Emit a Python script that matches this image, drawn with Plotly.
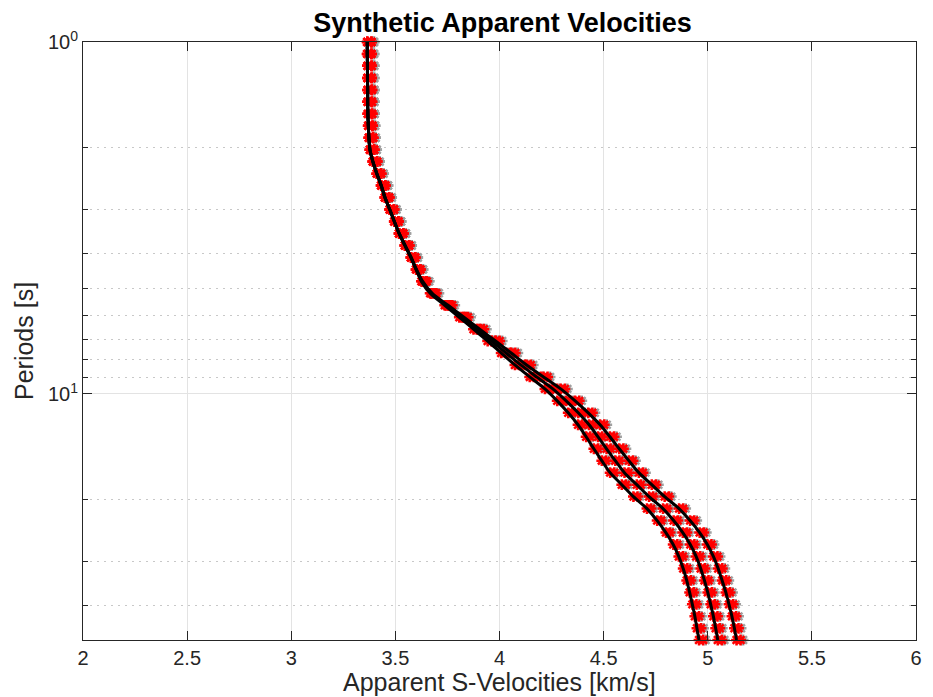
import math
import plotly.graph_objects as go

# ---------------- data ----------------
periods = [1.000, 1.081, 1.169, 1.265, 1.368, 1.479, 1.600, 1.730, 1.871, 2.023,
           2.187, 2.366, 2.558, 2.767, 2.992, 3.236, 3.499, 3.784, 4.093, 4.426,
           4.787, 5.176, 5.598, 6.054, 6.547, 7.071, 7.647, 8.270, 8.944, 9.672,
           10.46, 11.31, 12.23, 13.23, 14.31, 15.47, 16.73, 18.10, 19.57, 21.17,
           22.89, 24.76, 26.77, 28.95, 31.31, 33.86, 36.62, 39.60, 42.83, 46.32,
           50.00]

vel_mid = [3.365, 3.365, 3.366, 3.366, 3.367, 3.367, 3.368, 3.370, 3.373, 3.378,
           3.392, 3.411, 3.432, 3.450, 3.473, 3.495, 3.518, 3.546, 3.575, 3.600,
           3.628, 3.672, 3.745, 3.818, 3.890, 3.962, 4.032, 4.102, 4.178, 4.256,
           4.320, 4.378, 4.430, 4.473, 4.514, 4.556, 4.600, 4.659, 4.718, 4.785,
           4.836, 4.880, 4.916, 4.944, 4.966, 4.984, 5.000, 5.014, 5.027, 5.038,
           5.048]

vel_low = [3.365, 3.365, 3.366, 3.366, 3.367, 3.367, 3.368, 3.370, 3.373, 3.378,
           3.392, 3.411, 3.432, 3.450, 3.473, 3.495, 3.518, 3.546, 3.575, 3.599,
           3.625, 3.667, 3.737, 3.807, 3.875, 3.943, 4.008, 4.074, 4.145, 4.218,
           4.277, 4.330, 4.377, 4.416, 4.453, 4.491, 4.531, 4.587, 4.643, 4.708,
           4.757, 4.799, 4.834, 4.861, 4.882, 4.899, 4.913, 4.926, 4.938, 4.948,
           4.958]

vel_high = [3.365, 3.365, 3.366, 3.366, 3.367, 3.367, 3.368, 3.370, 3.373, 3.378,
            3.392, 3.411, 3.432, 3.450, 3.473, 3.495, 3.518, 3.546, 3.575, 3.601,
            3.631, 3.677, 3.753, 3.829, 3.905, 3.981, 4.056, 4.130, 4.211, 4.294,
            4.363, 4.426, 4.483, 4.530, 4.575, 4.621, 4.669, 4.731, 4.793, 4.862,
            4.915, 4.961, 4.998, 5.027, 5.050, 5.069, 5.087, 5.102, 5.116, 5.128,
            5.138]

x_ticks = [2, 2.5, 3, 3.5, 4, 4.5, 5, 5.5, 6]
y_major = [1, 10]
y_major_text = ["10<sup>0</sup>", "10<sup>1</sup>"]
y_minor = [2, 3, 4, 5, 6, 7, 8, 9, 20, 30, 40]

curves = [vel_low, vel_mid, vel_high]

# ---------------- style ----------------
RED_SPREAD = 0.02    # display widening of the red marker band (km/s)
GRAY_SHIFT = 0.032   # display offset of the gray marker layer (km/s)
FONT = "Liberation Sans, Arial, Helvetica, sans-serif"
AXC = "#262626"
MSIZE = 9
MLW = 2.5

fig = go.Figure()

# gray markers (behind)
for v in curves:
    fig.add_trace(go.Scatter(
        x=[a + GRAY_SHIFT for a in v], y=periods, mode="markers",
        marker=dict(symbol="asterisk-open", size=MSIZE, color="#a0a0a0",
                    line=dict(color="#a0a0a0", width=MLW)),
        cliponaxis=False, showlegend=False, hoverinfo="skip"))

# red markers
for v in curves:
    for shift in (0.0, RED_SPREAD):
        fig.add_trace(go.Scatter(
            x=[a + shift for a in v], y=periods, mode="markers",
            marker=dict(symbol="asterisk-open", size=MSIZE, color="#ff0000",
                        line=dict(color="#ff0000", width=MLW)),
            cliponaxis=False, showlegend=False))

# black lines
for v in curves:
    fig.add_trace(go.Scatter(
        x=v, y=periods, mode="lines",
        line=dict(color="black", width=3, shape="spline", smoothing=0.8),
        showlegend=False))

fig.update_layout(
    width=933, height=697,
    margin=dict(l=83, r=11, t=42, b=57),
    plot_bgcolor="white", paper_bgcolor="white",
    font=dict(family=FONT, color=AXC, size=20),
    showlegend=False,
    title=dict(text="<b>Synthetic Apparent Velocities</b>",
               font=dict(family=FONT, size=27, color="black"),
               x=0.5 * (83 + 922) / 933, xanchor="center",
               yref="container", y=1 - 23 / 697, yanchor="middle"),
)

fig.update_xaxes(
    range=[2, 6], tickmode="array", tickvals=x_ticks,
    ticks="inside", ticklen=9, tickwidth=1, tickcolor=AXC,
    showline=True, linecolor=AXC, linewidth=1, mirror="ticks",
    showgrid=True, gridcolor="#e3e3e3", gridwidth=1, zeroline=False,
    tickfont=dict(size=20, color=AXC, family=FONT),
)

fig.update_yaxes(
    type="log", range=[math.log10(50), 0],
    tickmode="array", tickvals=y_major, ticktext=y_major_text,
    ticks="inside", ticklen=9, tickwidth=1, tickcolor=AXC,
    showline=True, linecolor=AXC, linewidth=1, mirror="ticks",
    showgrid=True, gridcolor="#e3e3e3", gridwidth=1, zeroline=False,
    tickfont=dict(size=20, color=AXC, family=FONT),
    minor=dict(tickmode="array", tickvals=y_minor, ticks="inside", ticklen=5,
               tickcolor=AXC, showgrid=True, gridcolor="#c8c8c8",
               griddash="2px,5px", gridwidth=1),
)

fig.add_annotation(text="Apparent S-Velocities [km/s]", xref="paper", yref="paper",
                   x=0.5, y=0, yshift=-42, xanchor="center", yanchor="middle",
                   showarrow=False, font=dict(family=FONT, size=25, color=AXC))
fig.add_annotation(text="Periods [s]", xref="paper", yref="paper",
                   x=0, y=0.5, xshift=-59, xanchor="center", yanchor="middle",
                   textangle=-90, showarrow=False,
                   font=dict(family=FONT, size=25, color=AXC))

fig.write_html("out.html")
